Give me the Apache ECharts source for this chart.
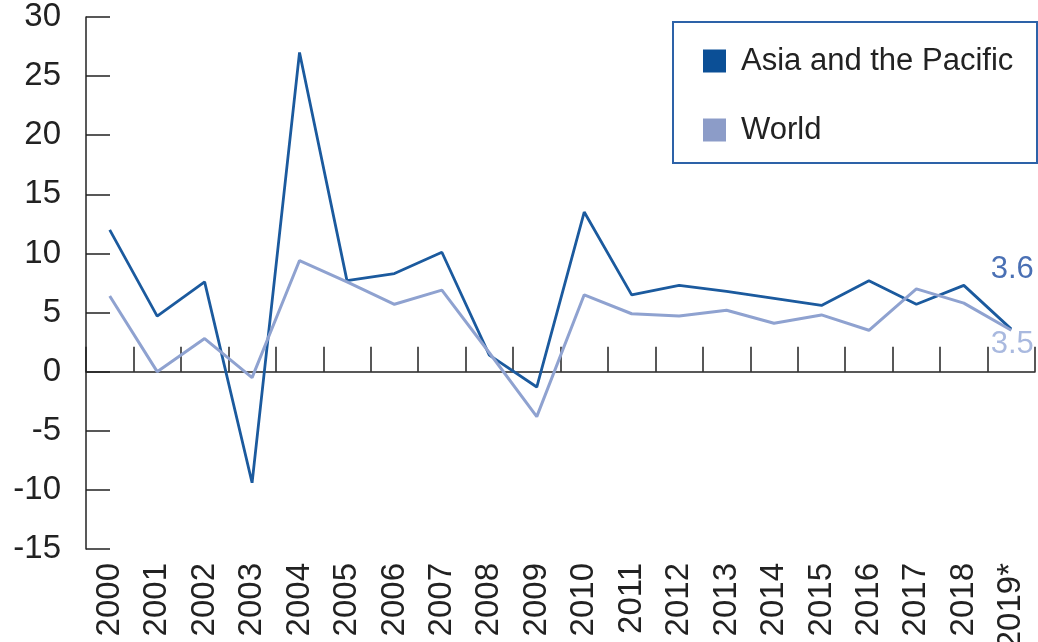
<!DOCTYPE html>
<html>
<head>
<meta charset="utf-8">
<script src="https://cdn.jsdelivr.net/npm/echarts@6/dist/echarts.min.js"></script>
<style>
html,body{margin:0;padding:0;background:#fff;}
#chart{width:1038px;height:642px;}
</style>
</head>
<body>
<div id="chart"></div>
<script>
const years = ['2000','2001','2002','2003','2004','2005','2006','2007','2008','2009','2010','2011','2012','2013','2014','2015','2016','2017','2018','2019*'];
const asiaPacific = [12.0, 4.7, 7.6, -9.4, 27.0, 7.7, 8.3, 10.1, 1.4, -1.3, 13.5, 6.5, 7.3, 6.8, 6.2, 5.6, 7.7, 5.7, 7.3, 3.6];
const world = [6.4, 0.0, 2.8, -0.5, 9.4, 7.6, 5.7, 6.9, 1.6, -3.8, 6.5, 4.9, 4.7, 5.2, 4.1, 4.8, 3.5, 7.0, 5.8, 3.5];
const yTicks = {min: -15, max: 30, interval: 5};

const FONT = 'Liberation Sans';
const chart = echarts.init(document.getElementById('chart'), null, {renderer: 'canvas'});

chart.setOption({
  animation: false,
  backgroundColor: '#fff',
  grid: {left: 86, right: 3, top: 17, bottom: 93, containLabel: false, outerBoundsMode: 'none'},
  legend: {
    orient: 'vertical',
    left: 698,
    top: 38,
    itemWidth: 23,
    itemHeight: 23,
    itemGap: 33,
    icon: 'rect',
    textStyle: {fontFamily: FONT, fontSize: 31, color: '#222', lineHeight: 36, padding: [0, 0, 0, 10]},
    data: ['Asia and the Pacific', 'World']
  },
  graphic: [{
    type: 'rect',
    shape: {x: 673, y: 22, width: 364, height: 141},
    style: {fill: 'none', stroke: '#2d62a8', lineWidth: 2},
    silent: true
  }],
  xAxis: [{
    type: 'category',
    data: years,
    boundaryGap: true,
    axisLine: {show: true, onZero: true, lineStyle: {color: '#222', width: 1.5}},
    axisTick: {show: true, inside: true, length: 25, alignWithLabel: false, lineStyle: {color: '#222', width: 1.5}},
    axisLabel: {show: false},
    splitLine: {show: false}
  }, {
    type: 'category',
    data: years,
    position: 'bottom',
    boundaryGap: true,
    axisLine: {show: false, onZero: false},
    axisTick: {show: false},
    axisLabel: {show: true, rotate: 90, margin: 14, fontFamily: FONT, fontSize: 33, color: '#222', interval: 0},
    splitLine: {show: false}
  }],
  yAxis: {
    type: 'value',
    min: yTicks.min,
    max: yTicks.max,
    interval: yTicks.interval,
    axisLine: {show: true, lineStyle: {color: '#222', width: 1.5}},
    axisTick: {show: true, inside: true, length: 24, lineStyle: {color: '#222', width: 1.5}},
    axisLabel: {margin: 25, fontFamily: FONT, fontSize: 33, color: '#222'},
    splitLine: {show: false}
  },
  series: [{
    name: 'Asia and the Pacific',
    type: 'line',
    xAxisIndex: 0,
    data: asiaPacific,
    symbol: 'none',
    itemStyle: {color: '#0b4f96'},
    lineStyle: {color: '#1b5a9e', width: 2.8},
    endLabel: {show: true, distance: 0, align: 'center', verticalAlign: 'middle', offset: [1, -60], fontFamily: FONT, fontSize: 31, color: '#4a70b4', formatter: p => p.value},
    z: 2
  }, {
    name: 'World',
    type: 'line',
    xAxisIndex: 0,
    data: world,
    symbol: 'none',
    itemStyle: {color: '#8c9cc8'},
    lineStyle: {color: '#8fa2d0', width: 3},
    endLabel: {show: true, distance: 0, align: 'center', verticalAlign: 'middle', offset: [1, 14], fontFamily: FONT, fontSize: 31, color: '#a9b9df', formatter: p => p.value},
    z: 3
  }]
});
</script>
</body>
</html>
